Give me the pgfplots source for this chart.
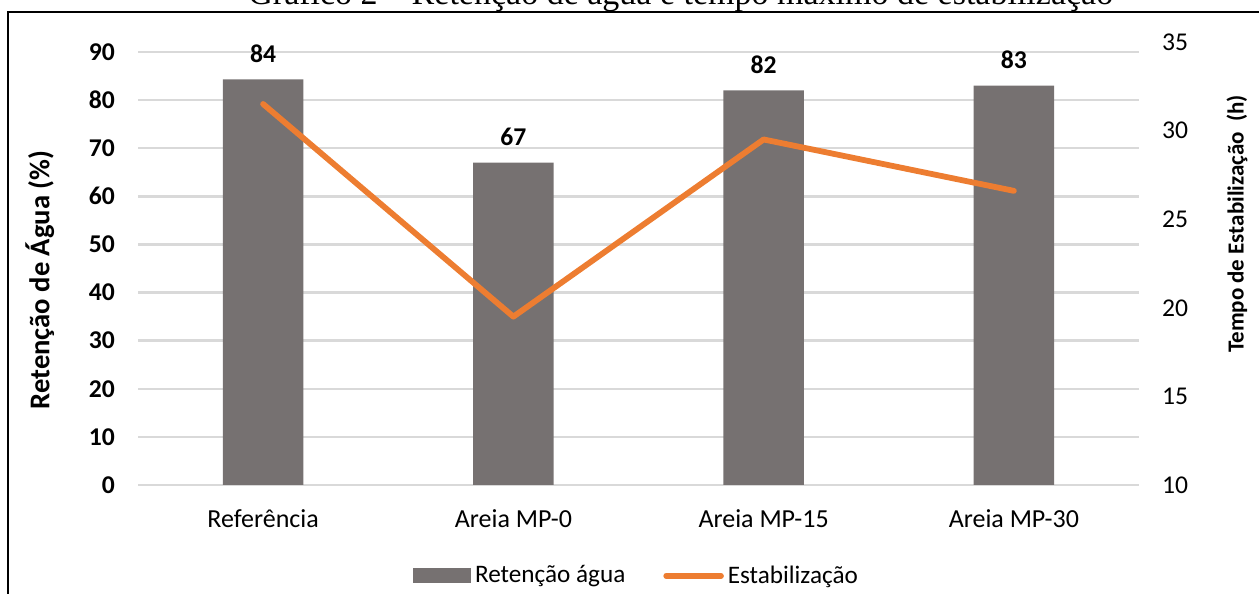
\documentclass[border=0pt]{standalone}
\usepackage{fontspec}
\setmainfont{Carlito}
\newfontfamily\titlefont{Liberation Serif}
\usepackage{pgfplots}
\pgfplotsset{compat=1.18}
\definecolor{bargray}{HTML}{767171}
\definecolor{lineorange}{HTML}{ED7D31}
\definecolor{gridgray}{HTML}{D9D9D9}
\pgfplotsset{
  barlegend/.style={legend image code/.code={\fill[bargray] (0pt,-3.75pt) rectangle (29pt,3.75pt);}},
  linelegend/.style={legend image code/.code={\draw[lineorange, line width=2.75pt, line cap=round] (0pt,0pt) -- (27.5pt,0pt);}},
}
\begin{document}
\begin{tikzpicture}
\useasboundingbox (0,0) rectangle (629.5pt,297pt);
\clip (0,0) rectangle (629.5pt,297pt);
\node[anchor=base west, inner sep=0pt, font=\titlefont\fontsize{17}{20}\selectfont] at (124pt,294.5pt) {Gráfico 2 – Retenção de água e tempo máximo de estabilização};
\draw[line width=0.85pt] (3.9pt,-5pt) -- (3.9pt,291.15pt) -- (640pt,291.15pt);

\begin{axis}[
  at={(69pt,54.5pt)}, anchor=south west,
  scale only axis, width=500.5pt, height=221.5pt,
  xmin=-0.5, xmax=3.5, ymin=0, ymax=92.08,
  xtick={0,1,2,3}, xticklabels={Referência, Areia MP-0, Areia MP-15, Areia MP-30},
  ytick={0,10,...,90},
  axis x line*=bottom, axis y line*=left,
  x axis line style={draw=gridgray, line width=1.2pt, -},
  y axis line style={draw=none},
  major tick length=0pt,
  ymajorgrids, grid style={draw=gridgray, line width=1.2pt},
  /pgf/number format/assume math mode=true,
  yticklabel style={font=\fontsize{12.8}{15}\selectfont\bfseries, xshift=-8pt},
  xticklabel style={font=\fontsize{13}{15}\selectfont, yshift=-9pt},
  ylabel={Retenção de Água (\%)},
  ylabel style={at={(axis description cs:-0.098,0.463)}, anchor=center, font=\fontsize{14.3}{16}\selectfont\bfseries},
  legend columns=2,
  legend style={at={(axis description cs:0.499,-0.205)}, anchor=center, draw=none, fill=none,
    font=\fontsize{12.6}{15}\selectfont, /tikz/every even column/.append style={column sep=17pt}},
]
\addplot[ybar, fill=bargray, draw=none, bar width=40.35pt, barlegend,
  nodes near coords, point meta=explicit symbolic,
  every node near coord/.append style={font=\fontsize{12.8}{15}\selectfont\bfseries, yshift=5pt}]
  coordinates {(0,84.3)[84] (1,67)[67] (2,82)[82] (3,83)[83]};
\addlegendentry{Retenção água}
\addlegendimage{linelegend}
\addlegendentry{Estabilização}
\end{axis}

\begin{axis}[
  at={(69pt,54.5pt)}, anchor=south west,
  scale only axis, width=500.5pt, height=221.5pt,
  xmin=-0.5, xmax=3.5, ymin=10, ymax=35,
  axis x line=none, axis y line*=right,
  y axis line style={draw=none},
  major tick length=0pt,
  ytick={10,15,...,35},
  /pgf/number format/assume math mode=true,
  yticklabel style={font=\fontsize{12.8}{15}\selectfont, xshift=8pt},
  ylabel={Tempo de Estabilização\ \ (h)},
  ylabel style={at={(axis description cs:1.098,0.589)}, anchor=center, font=\fontsize{11.5}{14}\selectfont\bfseries},
]
\addplot[lineorange, line width=2.9pt, line join=round, line cap=round] coordinates {(0,31.5) (1,19.5) (2,29.5) (3,26.6)};
\end{axis}
\end{tikzpicture}
\end{document}
